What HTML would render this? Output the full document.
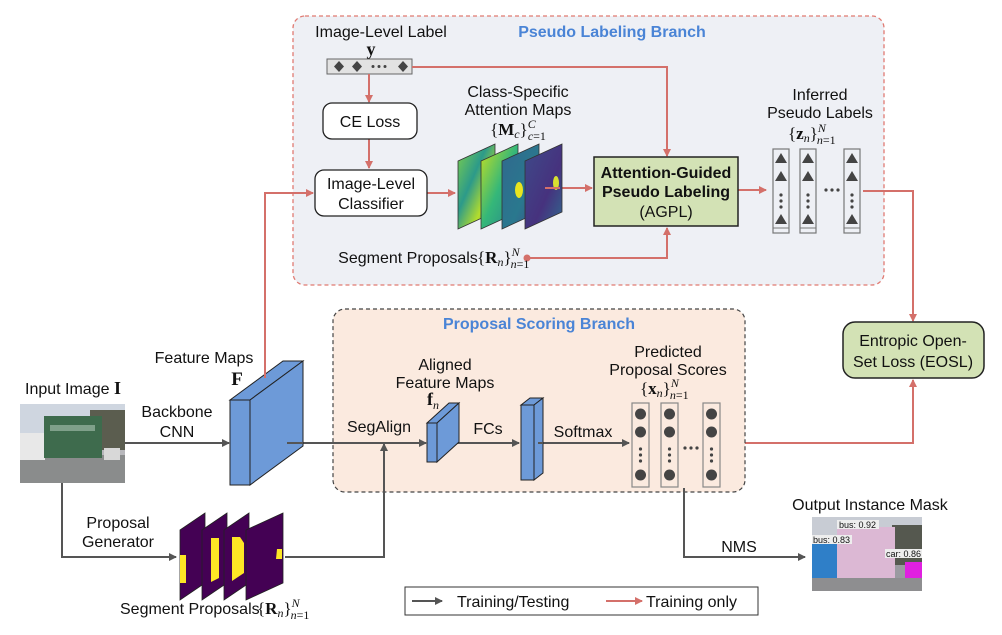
<!DOCTYPE html>
<html><head><meta charset="utf-8"><style>
html,body{margin:0;padding:0;background:#fff;}
svg{display:block;}
text{font-family:"Liberation Sans",sans-serif;fill:#111;}
.m{font-family:"Liberation Serif",serif;}
</style></head><body>
<svg width="1002" height="635" viewBox="0 0 1002 635" xmlns="http://www.w3.org/2000/svg">
<defs>
<marker id="ar" markerWidth="8" markerHeight="8" refX="7" refY="4" orient="auto" markerUnits="userSpaceOnUse"><path d="M0,0 L8,4 L0,8 z" fill="#d4706a"/></marker>
<marker id="ag" markerWidth="8" markerHeight="8" refX="7" refY="4" orient="auto" markerUnits="userSpaceOnUse"><path d="M0,0 L8,4 L0,8 z" fill="#555"/></marker>
<linearGradient id="g1" x1="0" y1="0" x2="1" y2="1"><stop offset="0" stop-color="#7ed04b"/><stop offset="0.4" stop-color="#2c9a8a"/><stop offset="0.7" stop-color="#b5de2b"/><stop offset="1" stop-color="#31688e"/></linearGradient>
<linearGradient id="g2" x1="0" y1="0" x2="1" y2="1"><stop offset="0" stop-color="#c8e020"/><stop offset="0.5" stop-color="#35b779"/><stop offset="1" stop-color="#26828e"/></linearGradient>
<linearGradient id="g3" x1="0" y1="0" x2="1" y2="1"><stop offset="0" stop-color="#31688e"/><stop offset="0.6" stop-color="#2a788e"/><stop offset="1" stop-color="#3b528b"/></linearGradient>
<linearGradient id="g4" x1="0" y1="0" x2="1" y2="1"><stop offset="0" stop-color="#3e4a89"/><stop offset="0.6" stop-color="#46327e"/><stop offset="1" stop-color="#31688e"/></linearGradient>
</defs>

<rect x="293" y="16" width="591" height="269" rx="12" fill="#eef0f5" stroke="#e07a72" stroke-width="1.3" stroke-dasharray="4,3"/>
<text x="612" y="37" text-anchor="middle" font-size="16" font-weight="bold" style="fill:#4a84d6">Pseudo Labeling Branch</text>
<text x="381" y="37" text-anchor="middle" font-size="16">Image-Level Label</text>
<text x="371" y="55" text-anchor="middle" font-size="18" font-weight="bold" class="m">y</text>
<rect x="327" y="59" width="85" height="15" fill="#e2e2e2" stroke="#666" stroke-width="1"/>
<g fill="#444">
<path d="M339,61 l5,5.5 l-5,5.5 l-5,-5.5z"/><path d="M357,61 l5,5.5 l-5,5.5 l-5,-5.5z"/><path d="M403,61 l5,5.5 l-5,5.5 l-5,-5.5z"/>
<circle cx="373" cy="66.5" r="1.5"/><circle cx="379" cy="66.5" r="1.5"/><circle cx="385" cy="66.5" r="1.5"/>
</g>
<g stroke="#d4706a" stroke-width="2" fill="none">
<path d="M412,67 H667 V156" marker-end="url(#ar)"/>
<path d="M369,74 V102" marker-end="url(#ar)"/>
<path d="M369,139 V168" marker-end="url(#ar)"/>
<path d="M265,378 V193 H313" marker-end="url(#ar)"/>
<path d="M427,193 H455" marker-end="url(#ar)"/>
<path d="M545,188 H592" marker-end="url(#ar)"/>
<path d="M738,190 H766" marker-end="url(#ar)"/>
<path d="M527,258 H667 V228" marker-end="url(#ar)"/>
<path d="M863,191 H913 V321" marker-end="url(#ar)"/>
<path d="M724,443 H913 V380" marker-end="url(#ar)"/>
</g>
<circle cx="527" cy="258" r="3.5" fill="#d4706a"/>
<rect x="323" y="103" width="94" height="36" rx="9" fill="#fff" stroke="#222" stroke-width="1.3"/>
<text x="370" y="127" text-anchor="middle" font-size="16">CE Loss</text>
<rect x="315" y="170" width="112" height="46" rx="9" fill="#fff" stroke="#222" stroke-width="1.3"/>
<text x="371" y="189" text-anchor="middle" font-size="16">Image-Level</text>
<text x="371" y="209" text-anchor="middle" font-size="16">Classifier</text>
<text x="518" y="97" text-anchor="middle" font-size="16">Class-Specific</text>
<text x="518" y="115" text-anchor="middle" font-size="16">Attention Maps</text>
<text x="518" y="135" text-anchor="middle" font-size="17" class="m">{<tspan font-weight="bold">M</tspan><tspan font-style="italic" font-size="12" dy="3">c</tspan><tspan dy="-3">}</tspan><tspan font-style="italic" font-size="12" dy="-7">C</tspan><tspan font-style="italic" font-size="12" dx="-8" dy="12">c</tspan><tspan font-size="12">=1</tspan></text>
<path d="M458,161 L495,144 L495,212 L458,229z" fill="url(#g1)" stroke="#333" stroke-width="0.8"/>
<path d="M481,161 L518,144 L518,212 L481,229z" fill="url(#g2)" stroke="#333" stroke-width="0.8"/>
<path d="M502,161 L539,144 L539,212 L502,229z" fill="url(#g3)" stroke="#333" stroke-width="0.8"/>
<path d="M525,161 L562,144 L562,212 L525,229z" fill="url(#g4)" stroke="#333" stroke-width="0.8"/>
<ellipse cx="519" cy="190" rx="4" ry="8" fill="#e8e420"/>
<ellipse cx="556" cy="183" rx="3" ry="7" fill="#d8e030"/>
<path d="M545,188 H560" stroke="#d4706a" stroke-width="2"/>
<rect x="594" y="157" width="144" height="69" fill="#d3e2b5" stroke="#222" stroke-width="1.5"/>
<text x="666" y="178" text-anchor="middle" font-size="16" font-weight="bold">Attention-Guided</text>
<text x="666" y="197" text-anchor="middle" font-size="16" font-weight="bold">Pseudo Labeling</text>
<text x="666" y="217" text-anchor="middle" font-size="16">(AGPL)</text>
<text x="408" y="263" text-anchor="middle" font-size="16">Segment Proposals</text>
<text x="477" y="263" font-size="17" class="m">{<tspan font-weight="bold">R</tspan><tspan font-style="italic" font-size="12" dy="3">n</tspan><tspan dy="-3">}</tspan><tspan font-style="italic" font-size="12" dy="-7">N</tspan><tspan font-style="italic" font-size="12" dx="-9" dy="12">n</tspan><tspan font-size="12">=1</tspan></text>
<text x="820" y="100" text-anchor="middle" font-size="16">Inferred</text>
<text x="820" y="118" text-anchor="middle" font-size="16">Pseudo Labels</text>
<text x="788" y="139" font-size="17" class="m">{<tspan font-weight="bold">z</tspan><tspan font-style="italic" font-size="12" dy="3">n</tspan><tspan dy="-3">}</tspan><tspan font-style="italic" font-size="12" dy="-7">N</tspan><tspan font-style="italic" font-size="12" dx="-9" dy="12">n</tspan><tspan font-size="12">=1</tspan></text>
<g id="zc">
<rect x="773" y="149" width="16" height="84" fill="#eef0f5" stroke="#777" stroke-width="1.2"/>
<line x1="773" y1="228" x2="789" y2="228" stroke="#777"/>
<g fill="#444"><path d="M781,153 l6,10 h-12z"/><path d="M781,171 l6,10 h-12z"/><path d="M781,214 l6,10 h-12z"/>
<circle cx="781" cy="195" r="1.6"/><circle cx="781" cy="201" r="1.6"/><circle cx="781" cy="207" r="1.6"/></g>
</g>
<use href="#zc" x="27"/><use href="#zc" x="71"/>
<g fill="#444"><circle cx="826" cy="190" r="1.6"/><circle cx="832" cy="190" r="1.6"/><circle cx="838" cy="190" r="1.6"/></g>
<rect x="843" y="322" width="141" height="56" rx="12" fill="#d3e2b5" stroke="#222" stroke-width="1.5"/>
<text x="913" y="346" text-anchor="middle" font-size="16">Entropic Open-</text>
<text x="913" y="367" text-anchor="middle" font-size="16">Set Loss (EOSL)</text>

<rect x="333" y="309" width="412" height="183" rx="12" fill="#fbeadf" stroke="#444" stroke-width="1.2" stroke-dasharray="4,3"/>
<text x="539" y="329" text-anchor="middle" font-size="16" font-weight="bold" style="fill:#4a84d6">Proposal Scoring Branch</text>

<g stroke="#555" stroke-width="2" fill="none">
<path d="M125,443 H229" marker-end="url(#ag)"/>
<path d="M287,443 H426" marker-end="url(#ag)"/>
<path d="M447,443 H519" marker-end="url(#ag)"/>
<path d="M538,443 H629" marker-end="url(#ag)"/>
<path d="M62,483 V557 H176" marker-end="url(#ag)"/>
<path d="M285,557 H384 V444" marker-end="url(#ag)"/>
<path d="M684,488 V557 H805" marker-end="url(#ag)"/>
</g>
<text x="25" y="394" font-size="16">Input Image <tspan class="m" font-weight="bold" font-size="18">I</tspan></text>
<rect x="20" y="404" width="105" height="79" fill="#b8b8bc"/>
<rect x="20" y="404" width="105" height="35" fill="#cfd6e0"/>
<rect x="90" y="410" width="35" height="40" fill="#5b5d4f"/>
<rect x="20" y="455" width="105" height="28" fill="#8a8c8c"/>
<rect x="20" y="433" width="25" height="27" fill="#e8e8e8"/>
<rect x="44" y="416" width="58" height="42" fill="#3e6b4d"/>
<rect x="50" y="425" width="45" height="6" fill="#7fa08a"/>
<rect x="104" y="448" width="16" height="12" fill="#d8d8d8"/>
<text x="177" y="417" text-anchor="middle" font-size="16">Backbone</text>
<text x="177" y="437" text-anchor="middle" font-size="16">CNN</text>
<text x="204" y="363" text-anchor="middle" font-size="16">Feature Maps</text>
<text x="237" y="385" text-anchor="middle" font-size="19" font-weight="bold" class="m">F</text>
<path d="M230,400 L283,361 L303,361 L250,400z" fill="#6d9ad8" stroke="#222" stroke-width="1"/>
<path d="M250,400 L303,361 L303,446 L250,485z" fill="#6d9ad8" stroke="#222" stroke-width="1"/>
<rect x="230" y="400" width="20" height="85" fill="#6d9ad8" stroke="#222" stroke-width="1"/>
<line x1="265" y1="378" x2="265" y2="372" stroke="#d4706a" stroke-width="2"/>
<line x1="287" y1="443" x2="303" y2="443" stroke="#555" stroke-width="2"/>
<text x="379" y="432" text-anchor="middle" font-size="16">SegAlign</text>
<text x="445" y="370" text-anchor="middle" font-size="16">Aligned</text>
<text x="445" y="388" text-anchor="middle" font-size="16">Feature Maps</text>
<text x="427" y="405" font-size="18" font-weight="bold" class="m">f<tspan font-weight="normal" font-style="italic" font-size="12" dy="4">n</tspan></text>
<path d="M427,423 L449,403 L459,403 L437,423z" fill="#6d9ad8" stroke="#222" stroke-width="1"/>
<path d="M437,423 L459,403 L459,442 L437,462z" fill="#6d9ad8" stroke="#222" stroke-width="1"/>
<rect x="427" y="423" width="10" height="39" fill="#6d9ad8" stroke="#222" stroke-width="1"/>
<text x="488" y="434" text-anchor="middle" font-size="16">FCs</text>
<path d="M521,405 L530,398 L543,398 L534,405z" fill="#6d9ad8" stroke="#222" stroke-width="1"/>
<path d="M534,405 L543,398 L543,473 L534,480z" fill="#6d9ad8" stroke="#222" stroke-width="1"/>
<rect x="521" y="405" width="13" height="75" fill="#6d9ad8" stroke="#222" stroke-width="1"/>
<line x1="538" y1="443" x2="543" y2="443" stroke="#555" stroke-width="2"/>
<text x="583" y="437" text-anchor="middle" font-size="16">Softmax</text>
<text x="668" y="357" text-anchor="middle" font-size="16">Predicted</text>
<text x="668" y="375" text-anchor="middle" font-size="16">Proposal Scores</text>
<text x="640" y="394" font-size="17" class="m">{<tspan font-weight="bold">x</tspan><tspan font-style="italic" font-size="12" dy="3">n</tspan><tspan dy="-3">}</tspan><tspan font-style="italic" font-size="12" dy="-7">N</tspan><tspan font-style="italic" font-size="12" dx="-9" dy="12">n</tspan><tspan font-size="12">=1</tspan></text>
<g id="xc">
<rect x="632" y="403" width="17" height="84" fill="#fbeadf" stroke="#888" stroke-width="1.2"/>
<g fill="#444"><circle cx="640.5" cy="414" r="5.5"/><circle cx="640.5" cy="432" r="5.5"/><circle cx="640.5" cy="475" r="5.5"/>
<circle cx="640.5" cy="449" r="1.6"/><circle cx="640.5" cy="455" r="1.6"/><circle cx="640.5" cy="461" r="1.6"/></g>
</g>
<use href="#xc" x="29"/><use href="#xc" x="71"/>
<g fill="#444"><circle cx="685" cy="448" r="1.6"/><circle cx="691" cy="448" r="1.6"/><circle cx="697" cy="448" r="1.6"/></g>

<text x="118" y="528" text-anchor="middle" font-size="16">Proposal</text>
<text x="118" y="547" text-anchor="middle" font-size="16">Generator</text>
<g stroke="#222" stroke-width="0.8">
<path d="M180,530 L205,513 L205,583 L180,600z" fill="#440154"/>
<path d="M202,530 L227,513 L227,583 L202,600z" fill="#440154"/>
<path d="M224,530 L249,513 L249,583 L224,600z" fill="#440154"/>
<path d="M246,530 L283,513 L283,583 L246,600z" fill="#440154"/>
</g>
<path d="M180,555 h6 v28 h-6z" fill="#fde725"/>
<path d="M211,538 h8 v40 l-8,4z" fill="#fde725"/>
<path d="M232,537 h8 l4,6 v30 l-12,8z" fill="#fde725"/>
<path d="M277,549 h5 v10 h-6z" fill="#fde725"/>
<text x="120" y="614" font-size="16">Segment Proposals</text>
<text x="257" y="614" font-size="17" class="m">{<tspan font-weight="bold">R</tspan><tspan font-style="italic" font-size="12" dy="3">n</tspan><tspan dy="-3">}</tspan><tspan font-style="italic" font-size="12" dy="-7">N</tspan><tspan font-style="italic" font-size="12" dx="-9" dy="12">n</tspan><tspan font-size="12">=1</tspan></text>
<text x="739" y="552" text-anchor="middle" font-size="16">NMS</text>

<text x="870" y="510" text-anchor="middle" font-size="16">Output Instance Mask</text>
<rect x="812" y="517" width="110" height="74" fill="#9a9aa0"/>
<rect x="812" y="517" width="110" height="25" fill="#c8ccd4"/>
<rect x="892" y="525" width="30" height="40" fill="#55584f"/>
<rect x="812" y="543" width="25" height="35" fill="#2f7fc8"/>
<rect x="837" y="527" width="58" height="51" fill="#dcb8d4"/>
<rect x="905" y="562" width="17" height="16" fill="#e020e0"/>
<rect x="812" y="578" width="110" height="13" fill="#8e8e90"/>
<rect x="837" y="520" width="42" height="9" fill="#eee"/><text x="839" y="528" font-size="9">bus: 0.92</text>
<rect x="812" y="535" width="40" height="9" fill="#eee"/><text x="813" y="543" font-size="9">bus: 0.83</text>
<rect x="885" y="549" width="37" height="9" fill="#eee"/><text x="886" y="557" font-size="9">car: 0.86</text>

<rect x="405" y="587" width="353" height="28" fill="#fff" stroke="#333" stroke-width="1"/>
<path d="M412,601 H442" stroke="#555" stroke-width="2" marker-end="url(#ag)"/>
<text x="457" y="607" font-size="16">Training/Testing</text>
<path d="M606,601 H642" stroke="#d4706a" stroke-width="2" marker-end="url(#ar)"/>
<text x="646" y="607" font-size="16">Training only</text>
</svg>
</body></html>
